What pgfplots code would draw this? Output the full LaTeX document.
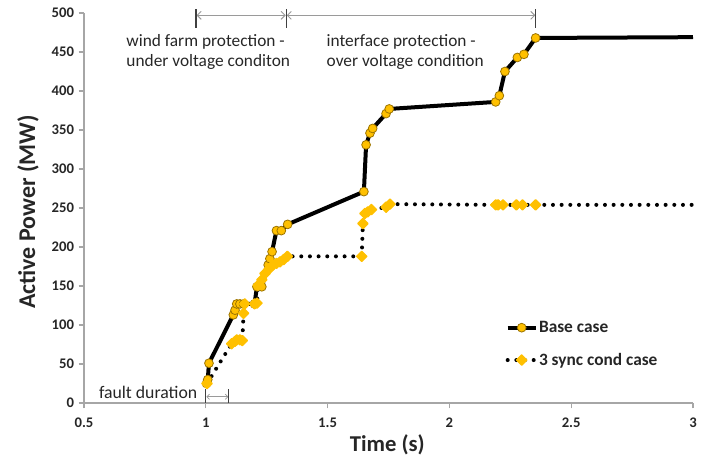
\documentclass[border=0pt]{standalone}
\usepackage{pgfplots}
\pgfplotsset{compat=1.18}
\usepackage{fontspec}
\setmainfont{Carlito}
\usetikzlibrary{arrows.meta}
\definecolor{gold}{HTML}{FFC000}
\definecolor{golddark}{HTML}{9C7400}
\definecolor{axgray}{HTML}{A6A6A6}
\definecolor{arrgray}{HTML}{9A9A9A}
\definecolor{txt}{HTML}{262626}

\pgfplotstableread{
x y
1.003 25
1.008 30
1.013 51
1.113 113
1.120 119
1.127 127
1.140 127
1.155 127
1.200 127
1.210 149
1.230 149
1.256 177
1.263 185
1.272 194
1.290 221
1.310 221
1.336 229
1.649 271
1.658 331
1.674 346
1.685 352
1.740 371
1.753 377
2.190 386
2.205 394
2.228 425
2.279 443
2.306 447
2.354 468
}\basecase

\pgfplotstableread{
x y
2.354 468
3.000 469
}\basetail

\pgfplotstableread{
x y
1.005 25
1.106 76
1.120 79
1.127 81
1.140 81
1.150 80
1.155 115
1.160 127
1.200 127
1.210 128
1.215 151
1.230 158
1.243 166
1.260 172
1.277 177
1.290 179
1.305 181
1.320 184
1.335 188
1.640 188
1.645 230
1.653 243
1.665 245
1.680 248
1.740 251
1.756 255
2.190 254
2.200 254
2.220 254
2.275 254
2.300 254
2.354 254
}\synccase

\pgfplotstableread{
x y
2.354 254
3.000 254
}\synctail

\begin{document}
\begin{tikzpicture}
\begin{axis}[
  scale only axis, width=456.75pt, height=292.5pt,
  xmin=0.5, xmax=3, ymin=0, ymax=500,
  xtick={0.5,1,1.5,2,2.5,3}, ytick={0,50,...,500},
  axis x line*=bottom, axis y line*=left,
  axis line style={axgray, line width=0.8pt, -},
  tick style={axgray, line width=0.8pt},
  tick align=outside, major tick length=4pt,
  /pgf/number format/assume math mode=true,
  xticklabel style={font=\bfseries\fontsize{11}{13}\selectfont, text=txt, yshift=-4pt},
  yticklabel style={font=\bfseries\fontsize{11}{13}\selectfont, text=txt},
  every axis x label/.style={at={(axis description cs:0.498,-0.108)}, anchor=center},
  every axis y label/.style={at={(axis description cs:-0.092,0.49)}, anchor=center, rotate=90},
  xlabel={Time (s)}, ylabel={Active Power (MW)},
  xlabel style={font=\bfseries\fontsize{17}{20}\selectfont, text=txt},
  ylabel style={font=\bfseries\fontsize{18}{21}\selectfont, text=txt},
  clip=false,
  legend style={at={(axis description cs:0.692,0.151)}, anchor=west, draw=none, fill=none,
    inner sep=0pt, font=\bfseries\fontsize{13}{15}\selectfont, text=txt, row sep=12pt,
    column sep=0pt, nodes={inner sep=1pt}},
  legend cell align=left,
  legend image code/.code={\draw[mark repeat=2,mark phase=2] plot coordinates {(0pt,0pt) (10.5pt,0pt) (21pt,0pt)};},
]
\addplot[black, line width=3pt, mark=*, mark size=3.3pt,
  mark options={solid, fill=gold, draw=golddark, line width=0.6pt}] table {\basecase};
\addlegendentry{Base case}
\addplot[black, line width=3pt, forget plot] table {\basetail};
\addplot[black, line width=3pt, line cap=round, dash pattern=on 0pt off 6.5pt,
  mark=square*, mark size=2.7pt,
  mark options={solid, rotate=45, fill=gold, draw=gold, line width=1pt, line join=round}] table {\synccase};
\addlegendentry{3 sync cond case}
\addplot[black, line width=3pt, line cap=round, dash pattern=on 0pt off 6.5pt, forget plot] table {\synctail};

% annotation brackets
\draw[arrgray, line width=0.7pt, {Straight Barb[length=3pt,width=6pt]}-{Straight Barb[length=3pt,width=6pt]}]
  (axis cs:0.962,497) -- (axis cs:1.328,497);
\draw[arrgray, line width=0.7pt, {Straight Barb[length=3pt,width=6pt]}-{Straight Barb[length=3pt,width=6pt]}]
  (axis cs:1.332,497) -- (axis cs:2.353,497);
\draw[black!75, line width=0.9pt] (axis cs:0.96,481) -- (axis cs:0.96,505);
\draw[black!75, line width=0.9pt] (axis cs:1.33,481) -- (axis cs:1.33,505);
\draw[black!75, line width=0.9pt] (axis cs:2.355,481) -- (axis cs:2.355,505);

\draw[arrgray, line width=0.6pt, {Straight Barb[length=2pt,width=4pt]}-{Straight Barb[length=2pt,width=4pt]}]
  (axis cs:1.002,8) -- (axis cs:1.093,8);
\draw[black!75, line width=0.8pt] (axis cs:1.0,0) -- (axis cs:1.0,18);
\draw[black!75, line width=0.8pt] (axis cs:1.095,0) -- (axis cs:1.095,18);

\node[anchor=west, align=left, text=txt, font=\fontsize{13}{15.5}\selectfont] at (axis cs:0.655,450)
  {wind farm protection -\\under voltage conditon};
\node[anchor=west, align=left, text=txt, font=\fontsize{13}{15.5}\selectfont] at (axis cs:1.477,450)
  {interface protection -\\over voltage condition};
\node[anchor=east, text=txt, font=\fontsize{13.3}{15}\selectfont, inner sep=0pt] at (axis cs:0.966,14)
  {fault duration};
\end{axis}
\pgfresetboundingbox
\path[use as bounding box] (-63pt,-42pt) rectangle (468pt,302.25pt);
\end{tikzpicture}
\end{document}
